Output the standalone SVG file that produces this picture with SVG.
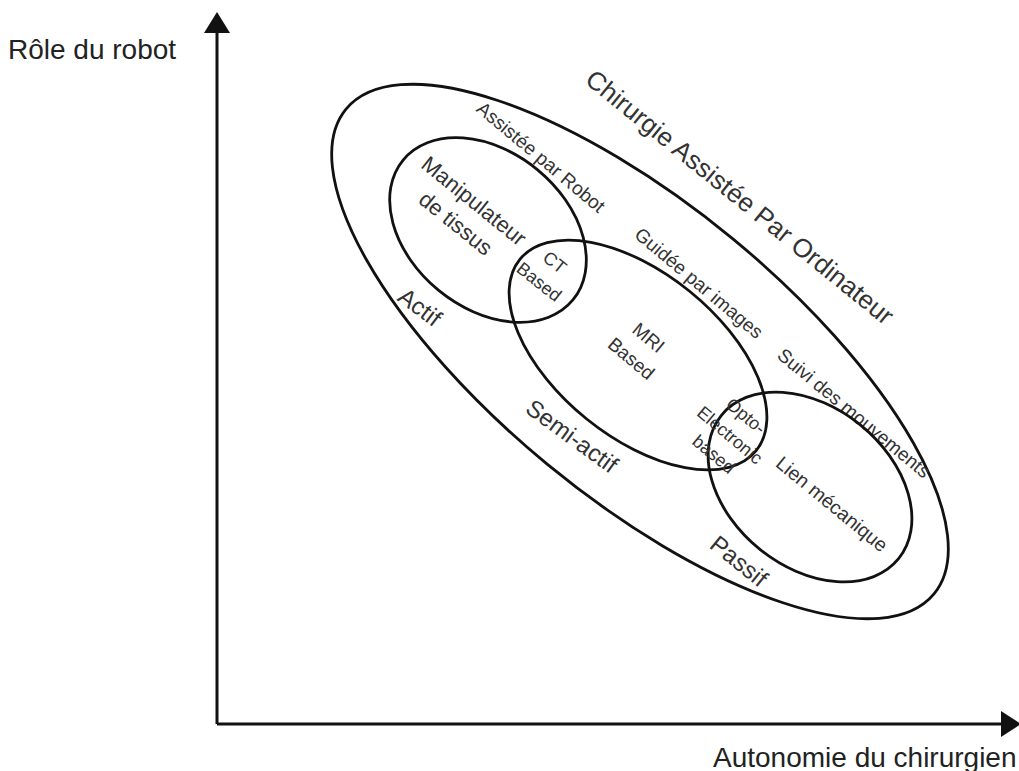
<svg xmlns="http://www.w3.org/2000/svg" width="1019" height="771" viewBox="0 0 1019 771">
<style>
.bg{fill:#fff}
.ell{fill:none;stroke:#111;stroke-width:2.8}
.axis{fill:none;stroke:#111;stroke-width:3}
.head{fill:#111;stroke:none}
.t{font-family:"Liberation Sans",Arial,sans-serif;fill:#333;text-anchor:middle}
.ax{font-family:"Liberation Sans",Arial,sans-serif;fill:#222;font-size:28px}
</style>
<rect class="bg" width="1019" height="771"/>
<g id="connectors">
<line class="axis" x1="217" y1="30" x2="217" y2="724"/>
<line class="axis" x1="217" y1="724" x2="1003" y2="724"/>
<polygon class="head" points="217,12 230,33 204,33"/>
<polygon class="head" points="1021,724 1001,711 1001,737"/>
</g>
<g id="axis-y-label"><text class="ax" x="8" y="59">Rôle du robot</text></g>
<g id="axis-x-label"><text class="ax" x="713" y="767">Autonomie du chirurgien</text></g>
<g id="cao">
<ellipse class="ell" cx="0" cy="0" rx="381" ry="146" transform="translate(640,351.5) rotate(39.5)"/>
<text class="t" font-size="26" dy="0.35em" transform="translate(740,197) rotate(39)">Chirurgie Assistée Par Ordinateur</text>
<text class="t" font-size="19" dy="0.35em" transform="translate(541,157) rotate(40)">Assistée par Robot</text>
<text class="t" font-size="19" dy="0.35em" transform="translate(699,283) rotate(40)">Guidée par images</text>
<text class="t" font-size="19" dy="0.35em" transform="translate(854,413) rotate(39.5)">Suivi des mouvements</text>
</g>
<g id="actif">
<ellipse class="ell" cx="0" cy="0" rx="110" ry="78" transform="translate(488,230) rotate(39.5)"/>
<text class="t" font-size="22" transform="translate(465,212) rotate(39)"><tspan x="0" y="-6.8">Manipulateur</tspan><tspan x="0" y="22.2">de tissus</tspan></text>
<text class="t" font-size="24" dy="0.35em" transform="translate(420,307) rotate(37)">Actif</text>
</g>
<g id="semi-actif">
<ellipse class="ell" cx="0" cy="0" rx="152" ry="82" transform="translate(638,355) rotate(39)"/>
<text class="t" font-size="19" transform="translate(640,348) rotate(40)"><tspan x="0" y="-6.8">MRI</tspan><tspan x="0" y="20.2">Based</tspan></text>
<text class="t" font-size="24" dy="0.35em" transform="translate(572,436) rotate(36)">Semi-actif</text>
</g>
<g id="ct-based">
<text class="t" font-size="18" transform="translate(547,272) rotate(38.5)"><tspan x="0" y="-6.2">CT</tspan><tspan x="0" y="18.8">Based</tspan></text>
</g>
<g id="passif">
<ellipse class="ell" cx="0" cy="0" rx="114" ry="80" transform="translate(810,487) rotate(39)"/>
<text class="t" font-size="19.5" dy="0.35em" transform="translate(832,504) rotate(39.4)">Lien mécanique</text>
<text class="t" font-size="24" dy="0.35em" transform="translate(739,561) rotate(39)">Passif</text>
</g>
<g id="opto-electronic">
<text class="t" font-size="18" transform="translate(730,435) rotate(40)"><tspan x="0" y="-18.7">Opto-</tspan><tspan x="0" y="6.3">Electronic</tspan><tspan x="0" y="31.3">based</tspan></text>
</g>
</svg>
